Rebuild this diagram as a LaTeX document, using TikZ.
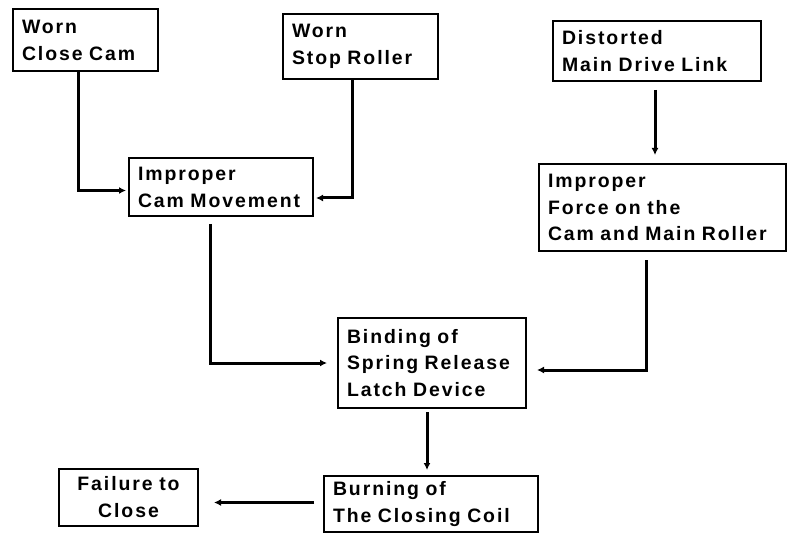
\documentclass[tikz,border=0pt]{standalone}
\usepackage{fontspec}
\usetikzlibrary{arrows.meta}
\newfontfamily\flowfont{Liberation Sans}[LetterSpace=10]
\newcommand\flowspace{\spaceskip 10bp\relax}
\hyphenpenalty=10000
\hbadness=10000
\hfuzz=20pt

\tikzset{
  cause/.style={draw, line width=2bp, align=left, anchor=north west, inner xsep=9bp, inner ysep=3bp,
    font=\flowfont\bfseries\fontsize{19.5}{27}\selectfont\flowspace},
  link/.style={line width=3bp, -{Latex[length=7bp,width=7bp]}},
}

\begin{document}
\begin{tikzpicture}[x=1bp, y=-1bp]
  \useasboundingbox (0, 0) rectangle (787, 534);

  % top row
  \node[cause, text width=127bp, minimum height=62bp] (wcam) at (12, 8) {Worn\\Close Cam};
  \node[cause, text width=137bp, minimum height=65bp] (wroll) at (282, 13) {Worn\\Stop Roller};
  \node[cause, text width=190bp, minimum height=60bp] (dlink) at (552, 20) {Distorted\\Main Drive Link};

  % middle row
  \node[cause, text width=166bp, minimum height=58bp] (imove) at (128, 157) {Improper\\Cam Movement};
  \node[cause, text width=229bp, minimum height=87bp] (iforce) at (538, 163) {Improper\\Force on the\\Cam and Main Roller};

  % latch, coil and outcome
  \node[cause, text width=170bp, minimum height=90bp] (bind) at (337, 317) {Binding of\\Spring Release\\Latch Device};
  \node[cause, text width=196bp, minimum height=56bp] (burn) at (323, 475) {Burning of\\The Closing Coil};
  \node[cause, align=center, text width=121bp, minimum height=57bp] (fail) at (58, 468) {Failure to\\Close};

  % connectors
  \draw[link, shorten >=2bp] ([xshift=66bp]wcam.south west) |- ([yshift=-3.5bp]imove.west);
  \draw[link, shorten >=2bp] ([xshift=70bp]wroll.south west) |- ([yshift=-11bp]imove.east);
  \draw[link, shorten <=8bp, shorten >=8bp] ([xshift=103bp]dlink.south west) -- ([xshift=103bp]dlink.south west |- iforce.north);
  \draw[link, shorten <=7bp, shorten >=10bp] ([xshift=82bp]imove.south west) |- (bind.west);
  \draw[link, shorten <=8bp, shorten >=10bp] ([xshift=108bp]iforce.south west) |- ([yshift=-7bp]bind.east);
  \draw[link, shorten <=3bp, shorten >=5bp] ([xshift=90bp]bind.south west) -- ([xshift=90bp]bind.south west |- burn.north);
  \draw[link, shorten <=9bp, shorten >=15bp] ([yshift=1.5bp]burn.west) -- ([yshift=1.5bp]burn.west -| fail.east);
\end{tikzpicture}
\end{document}
